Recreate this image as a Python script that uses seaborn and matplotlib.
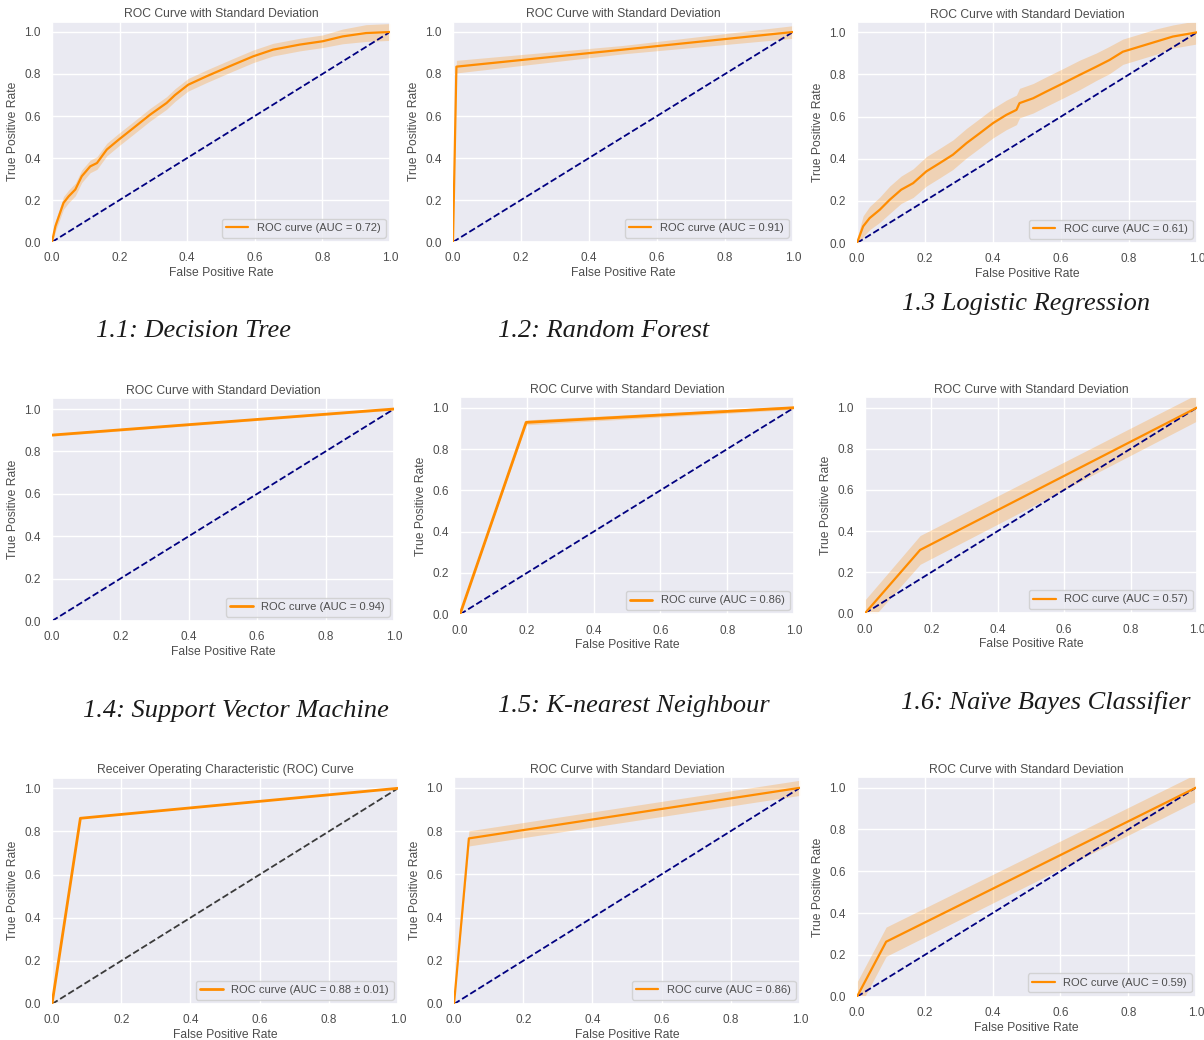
import matplotlib
matplotlib.use("Agg")
import matplotlib.pyplot as plt
import seaborn as sns
import numpy as np

# ---- ROC data per classifier (mean curve and its standard deviation) ----
dt_fpr = [0.0, 0.010, 0.034, 0.049, 0.069, 0.088, 0.113, 0.133, 0.162, 0.197, 0.241, 0.290,
          0.339, 0.364, 0.403, 0.457, 0.536, 0.595, 0.654, 0.733, 0.801, 0.860, 0.929, 1.0]
dt_tpr = [0.0, 0.075, 0.186, 0.217, 0.250, 0.313, 0.360, 0.376, 0.440, 0.487, 0.543, 0.606,
          0.662, 0.700, 0.749, 0.789, 0.844, 0.884, 0.916, 0.940, 0.956, 0.979, 0.995, 1.0]
dt_std = [0.010, 0.025, 0.030, 0.030, 0.030, 0.030, 0.030, 0.030, 0.030, 0.030, 0.030, 0.030,
          0.030, 0.030, 0.030, 0.030, 0.030, 0.030, 0.030, 0.030, 0.030, 0.035, 0.040, 0.040]

rf_fpr = [0.0, 0.010, 0.50, 1.0]
rf_tpr = [0.0, 0.835, 0.916, 1.0]
rf_std = [0.0, 0.030, 0.020, 0.030]

lr_fpr = [0.0, 0.018, 0.037, 0.067, 0.096, 0.130, 0.165, 0.204, 0.243, 0.282, 0.322, 0.361, 0.400,
          0.439, 0.469, 0.478, 0.518, 0.557, 0.606, 0.655, 0.704, 0.743, 0.782, 0.831, 0.880, 0.929, 1.0]
lr_tpr = [0.0, 0.079, 0.118, 0.158, 0.205, 0.253, 0.284, 0.340, 0.379, 0.419, 0.474, 0.521, 0.569,
          0.608, 0.632, 0.664, 0.687, 0.719, 0.758, 0.798, 0.837, 0.869, 0.908, 0.932, 0.956, 0.980, 1.0]
lr_std = [0.020, 0.050, 0.055, 0.060, 0.065, 0.065, 0.068, 0.070, 0.070, 0.070, 0.070, 0.070, 0.070,
          0.070, 0.070, 0.070, 0.070, 0.070, 0.070, 0.070, 0.065, 0.065, 0.060, 0.060, 0.060, 0.055, 0.055]

svm_fpr = [0.0, 1.0]
svm_tpr = [0.877, 1.0]
svm_std = [0.005, 0.005]

knn_fpr = [0.0, 0.198, 1.0]
knn_tpr = [0.0, 0.929, 1.0]
knn_std = [0.0, 0.012, 0.008]

nb_fpr = [0.0, 0.166, 1.0]
nb_tpr = [0.0, 0.308, 1.0]
nb_std = [0.065, 0.070, 0.065]

ens_fpr = [0.0, 0.082, 1.0]
ens_tpr = [0.0, 0.861, 1.0]

m8_fpr = [0.0, 0.043, 1.0]
m8_tpr = [0.0, 0.766, 1.0]
m8_std = [0.0, 0.035, 0.035]

m9_fpr = [0.0, 0.086, 1.0]
m9_tpr = [0.0, 0.263, 1.0]
m9_std = [0.070, 0.070, 0.065]

auc_labels = ["ROC curve (AUC = 0.72)", "ROC curve (AUC = 0.91)", "ROC curve (AUC = 0.61)",
              "ROC curve (AUC = 0.94)", "ROC curve (AUC = 0.86)", "ROC curve (AUC = 0.57)",
              "ROC curve (AUC = 0.88 \u00b1 0.01)", "ROC curve (AUC = 0.86)", "ROC curve (AUC = 0.59)"]
titles = ["ROC Curve with Standard Deviation"] * 6 + \
         ["Receiver Operating Characteristic (ROC) Curve"] + \
         ["ROC Curve with Standard Deviation"] * 2
captions = ["1.1: Decision Tree", "1.2: Random Forest", "1.3 Logistic Regression",
            "1.4: Support Vector Machine", "1.5: K-nearest Neighbour", "1.6: Na\u00efve Bayes Classifier"]
tick_values = [0.0, 0.2, 0.4, 0.6, 0.8, 1.0]

curves = [
    (dt_fpr, dt_tpr, dt_std),
    (rf_fpr, rf_tpr, rf_std),
    (lr_fpr, lr_tpr, lr_std),
    (svm_fpr, svm_tpr, svm_std),
    (knn_fpr, knn_tpr, knn_std),
    (nb_fpr, nb_tpr, nb_std),
    (ens_fpr, ens_tpr, None),
    (m8_fpr, m8_tpr, m8_std),
    (m9_fpr, m9_tpr, m9_std),
]

# ---- style ----
sns.set_theme(style="darkgrid")
plt.rcParams["font.family"] = ["Liberation Sans", "DejaVu Sans"]
plt.rcParams.update({
    "xtick.labelsize": 8.5, "ytick.labelsize": 8.5,
    "axes.labelsize": 8.7, "axes.titlesize": 8.7,
    "legend.fontsize": 8,
    "xtick.major.pad": 1.5, "ytick.major.pad": 2.0,
    "text.color": ".3", "axes.labelcolor": ".3",
    "xtick.color": ".3", "ytick.color": ".3",
})

W, H = 1204, 1040
fig = plt.figure(figsize=(W / 100, H / 100), dpi=100)

# panel boxes in pixels: left, top, right, bottom
boxes = [
    (52, 21.5, 390, 242), (453, 21.5, 793, 242), (857, 21.8, 1197, 243),
    (52, 398.4, 394, 621), (460, 397.4, 794, 614.3), (865, 397.3, 1197, 613.3),
    (52, 777.5, 398, 1004), (454, 777, 800, 1004), (857, 777.2, 1196, 996.7),
]

for i, (box, (fpr, tpr, std)) in enumerate(zip(boxes, curves)):
    l, t, r, b = box
    ax = fig.add_axes([l / W, 1 - b / H, (r - l) / W, (b - t) / H])
    fpr_a = np.asarray(fpr)
    tpr_a = np.asarray(tpr)
    lw = 2.0 if i in (3, 4, 6) else 1.6
    sns.lineplot(x=fpr_a, y=tpr_a, ax=ax, color="darkorange", lw=lw,
                 estimator=None, sort=False, label=auc_labels[i], zorder=3)
    if std is not None:
        std_a = np.asarray(std)
        ax.fill_between(fpr_a, tpr_a - std_a, tpr_a + std_a,
                        color="darkorange", alpha=0.25, lw=0, zorder=2)
    diag_color = "#3a3a3a" if i == 6 else "navy"
    ax.plot([0, 1], [0, 1], color=diag_color, lw=1.3, linestyle="--", zorder=2)
    ax.set_xlim(0.0, 1.0)
    ax.set_ylim(0.0, 1.05)
    ax.set_xticks(tick_values)
    ax.set_yticks(tick_values)
    ax.set_xlabel("False Positive Rate", labelpad=2)
    ax.set_ylabel("True Positive Rate", labelpad=4)
    ax.set_title(titles[i], pad=3)
    ax.legend(loc="lower right", handlelength=2.0, borderaxespad=0.4)

# captions under the first two rows
caption_pos = [(194, 331), (604, 331), (1026, 304), (236, 711), (634, 706), (1046, 702)]
for text, (cx, cy) in zip(captions, caption_pos):
    fig.text(cx / W, 1 - cy / H, text, ha="center", va="center",
             family=["Liberation Serif", "DejaVu Serif"], style="italic",
             fontsize=19, color="#1a1a1a")

fig.savefig("out.png", dpi=100)
